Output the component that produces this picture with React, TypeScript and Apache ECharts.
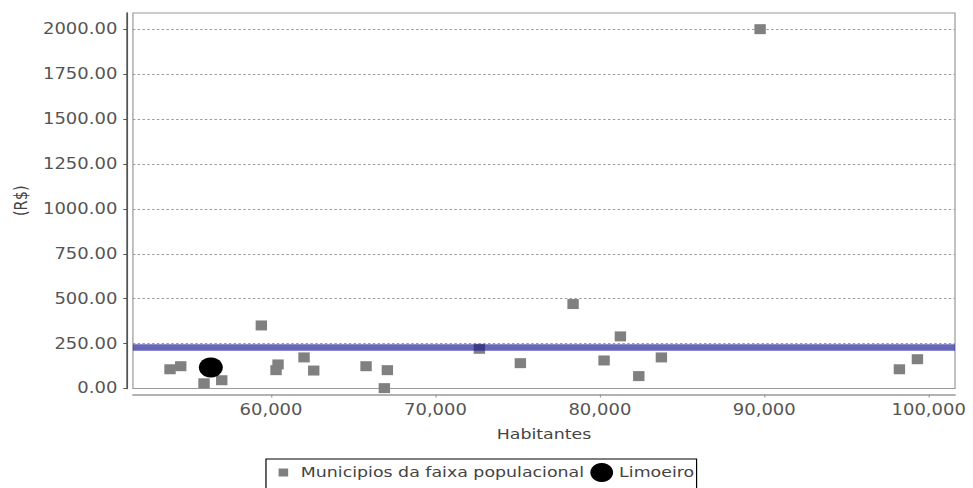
import React, { useEffect, useRef } from "react";
import * as echarts from "echarts";

// Municípios da faixa populacional: [habitantes, valor R$]
const municipiosX = [53856, 54507, 55924, 57001, 59410, 60304, 60426, 62007, 62597, 65779, 66892, 67075, 72671, 75165, 78371, 80256, 81248, 82367, 83742, 89745, 98219, 99314];
const municipiosY = [107, 124, 29, 46, 351, 102, 134, 173, 100, 124, 2, 102, 221, 141, 470, 156, 290, 69, 173, 2000, 107, 163];
const limoeiroX = [56338];
const limoeiroY = [117];
const mediaValor = 228;
const yTicks = [0, 250, 500, 750, 1000, 1250, 1500, 1750, 2000];
const xTicks = [60000, 70000, 80000, 90000, 100000];
const seriesNames = ["Municipios da faixa populacional", "Limoeiro"];

const FONT = "DejaVu Sans";
const W = 811;
const H = 488;
const SX = 973 / W;

const squareIcon =
  "image://data:image/svg+xml;charset=utf-8," +
  encodeURIComponent(
    "<svg xmlns='http://www.w3.org/2000/svg' width='19' height='19' viewBox='0 0 19 19'><rect x='5.5' y='5.5' width='8' height='8' fill='#808080'/></svg>"
  );

export default function App() {
  const ref = useRef<HTMLDivElement>(null);
  useEffect(() => {
    if (!ref.current) return;
    const chart = echarts.init(ref.current, null, { renderer: "svg" });
    const fmtComma = (v: number) => v.toLocaleString("en-US");
    chart.setOption({
      animation: false,
      backgroundColor: "#ffffff",
      textStyle: { fontFamily: FONT },
      grid: {
        left: 110.8,
        right: 15,
        top: 13,
        bottom: 99.5,
        show: true,
        borderColor: "#999999",
        borderWidth: 1,
        backgroundColor: "#ffffff",
      },
      legend: {
        left: 221.7,
        top: 459,
        orient: "horizontal",
        borderColor: "#000000",
        borderWidth: 1,
        padding: [4, 2, 7, 5],
        itemGap: 5,
        itemWidth: 19,
        itemHeight: 19,
        selectedMode: false,
        textStyle: { fontFamily: FONT, fontSize: 14.5, color: "#444444" },
        data: [
          { name: seriesNames[0], icon: squareIcon },
          { name: seriesNames[1], icon: "circle" },
        ],
      },
      xAxis: {
        type: "value",
        min: 51600,
        max: 101600,
        offset: 6,
        name: "Habitantes",
        nameLocation: "middle",
        nameGap: 32,
        nameTextStyle: { fontFamily: FONT, fontSize: 14.5, color: "#444444" },
        axisLine: { show: true, onZero: false, lineStyle: { color: "#999999", width: 1.5 } },
        axisTick: { show: true, length: 3, customValues: xTicks, lineStyle: { color: "#999999" } },
        axisLabel: {
          customValues: xTicks,
          formatter: (v: number) => fmtComma(v),
          fontFamily: FONT,
          fontSize: 15,
          color: "#555555",
          margin: 8,
        },
        splitLine: { show: false },
      },
      yAxis: {
        type: "value",
        min: 0,
        max: 2090,
        interval: 250,
        offset: 5,
        name: "(R$)",
        nameLocation: "middle",
        nameGap: 75,
        nameTextStyle: { fontFamily: FONT, fontSize: 14.5, color: "#444444" },
        axisLine: { show: true, onZero: false, lineStyle: { color: "#555555", width: 1.5 } },
        axisTick: { show: true, length: 3, customValues: yTicks, lineStyle: { color: "#555555" } },
        axisLabel: {
          customValues: yTicks,
          formatter: (v: number) => v.toFixed(2),
          fontFamily: FONT,
          fontSize: 15,
          color: "#555555",
          margin: 8,
        },
        splitLine: { show: true, lineStyle: { color: "#9a9a9a", type: [2, 2], width: 1 } },
      },
      series: [
        {
          name: seriesNames[0],
          type: "scatter",
          symbol: "rect",
          symbolSize: [9.5, 10],
          itemStyle: { color: "#808080", opacity: 1 },
          z: 2,
          data: municipiosX.map((x, i) => [x, municipiosY[i]]),
        },
        {
          name: seriesNames[1],
          type: "scatter",
          symbol: "circle",
          symbolSize: 20,
          itemStyle: { color: "#000000", opacity: 1 },
          z: 3,
          data: limoeiroX.map((x, i) => [x, limoeiroY[i]]),
        },
        {
          name: "media",
          type: "scatter",
          data: [],
          z: 6,
          markLine: {
            silent: true,
            symbol: "none",
            label: { show: false },
            lineStyle: { color: "rgba(20,20,150,0.65)", width: 6.7, type: "solid", opacity: 1 },
            data: [{ yAxis: mediaValor }],
          },
        },
      ],
    });
    return () => chart.dispose();
  }, []);
  return (
    <div
      style={{
        position: "fixed",
        left: 0,
        top: 0,
        width: W,
        height: H,
        transform: `scaleX(${SX})`,
        transformOrigin: "0 0",
      }}
    >
      <div ref={ref} style={{ width: W, height: H }} />
    </div>
  );
}
